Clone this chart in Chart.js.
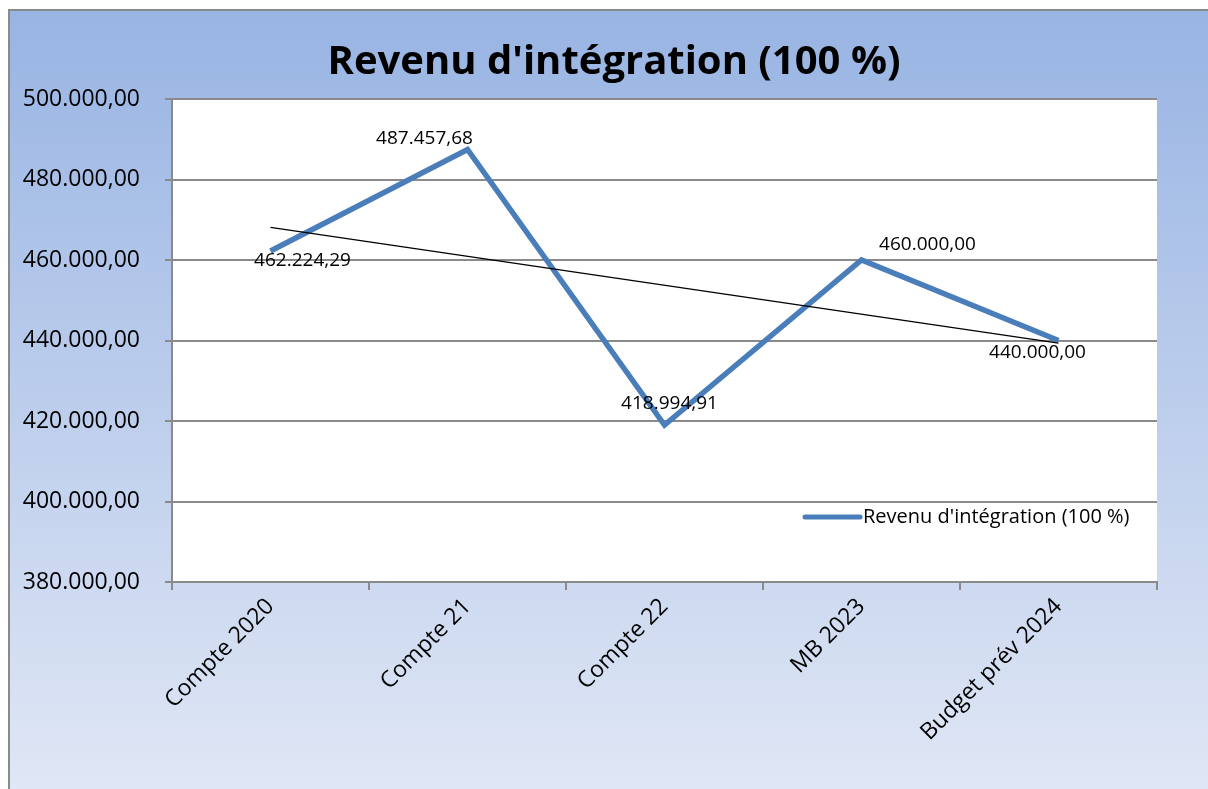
<!DOCTYPE html>
<html>
<head>
<meta charset="utf-8">
<script src="https://cdn.jsdelivr.net/npm/chart.js@4.4.1/dist/chart.umd.min.js"></script>
<style>
    html, body { margin: 0; padding: 0; background: #ffffff; }
    #box { width: 1208px; height: 789px; }
</style>
</head>
<body>
<div id="box"><canvas id="graphique"></canvas></div>
<script>
const titre = "Revenu d'intégration (100 %)";
const categories = ['Compte 2020', 'Compte 21', 'Compte 22', 'MB 2023', 'Budget prév 2024'];
const valeurs = [462224.29, 487457.68, 418994.91, 460000.00, 440000.00];
// tendance linéaire (début et fin)
const tendance = [468100, null, null, null, 439350];
const yMin = 380000;
const yMax = 500000;
const yPas = 20000;

const gris = '#8a8a8a';
const bleu = '#4a7ebb';

function formatNombre(v) {
    const parts = v.toFixed(2).split('.');
    return parts[0].replace(/\B(?=(\d{3})+(?!\d))/g, '.') + ',' + parts[1];
}

// fond dégradé, cadre et zone blanche
const fondPlugin = {
    id: 'fond',
    beforeDraw(chart) {
        const c = chart.ctx;
        const a = chart.chartArea;
        const g = c.createLinearGradient(0, 10, 0, chart.height);
        g.addColorStop(0, '#98b4e3');
        g.addColorStop(1, '#e0e7f5');
        c.save();
        c.fillStyle = g;
        c.fillRect(9, 10, chart.width, chart.height);
        c.strokeStyle = gris;
        c.lineWidth = 2;
        c.strokeRect(9, 10, chart.width + 10, chart.height + 10);
        c.fillStyle = '#ffffff';
        c.fillRect(a.left, a.top, a.right - a.left, a.bottom - a.top);
        c.restore();
    }
};

// titre, étiquettes de données et légende dans la zone
const textesPlugin = {
    id: 'textes',
    afterDraw(chart, args, opts) {
        const c = chart.ctx;
        const a = chart.chartArea;
        c.save();

        c.fillStyle = '#000000';
        c.textAlign = 'center';
        c.textBaseline = 'middle';
        c.font = 'bold 40px "Open Sans"';
        c.fillText(titre, 614, 63);

        const meta = chart.getDatasetMeta(0);
        c.font = '19px "Open Sans"';
        meta.data.forEach((pt, i) => {
            const d = opts.decalages[i];
            c.fillText(formatNombre(valeurs[i]), pt.x + d[0], pt.y + d[1]);
        });

        const ds = chart.data.datasets[0];
        const lx = a.left + 633;
        const ly = a.top + 418;
        c.strokeStyle = ds.borderColor;
        c.lineWidth = 5;
        c.lineCap = 'round';
        c.beginPath();
        c.moveTo(lx, ly);
        c.lineTo(lx + 55, ly);
        c.stroke();
        c.textAlign = 'left';
        c.font = '20px "Open Sans"';
        c.fillText(ds.label, lx + 58, ly);

        c.restore();
    }
};

new Chart(document.getElementById('graphique'), {
    type: 'line',
    data: {
        labels: categories,
        datasets: [
            {
                label: titre,
                data: valeurs,
                borderColor: bleu,
                borderWidth: 5.5,
                borderJoinStyle: 'miter',
                pointRadius: 0,
                tension: 0,
                order: 1
            },
            {
                label: 'Tendance',
                data: tendance,
                borderColor: '#000000',
                borderWidth: 1.3,
                pointRadius: 0,
                spanGaps: true,
                order: 0
            }
        ]
    },
    options: {
        responsive: true,
        maintainAspectRatio: false,
        animation: false,
        layout: {
            padding: { top: 99, right: 51, left: 0, bottom: 0 }
        },
        plugins: {
            legend: { display: false },
            tooltip: { enabled: false },
            title: { display: false },
            textes: {
                decalages: [[32, 10], [-43, -11], [5, -21], [66, -15], [-21, 12]]
            }
        },
        scales: {
            x: {
                offset: true,
                grid: {
                    offset: true,
                    drawOnChartArea: false,
                    drawTicks: true,
                    tickLength: 8,
                    color: gris,
                    lineWidth: 2
                },
                border: { color: gris, width: 2 },
                ticks: {
                    color: '#000000',
                    font: { family: 'Open Sans', size: 23 },
                    maxRotation: 45,
                    minRotation: 45,
                    padding: 3
                },
                afterFit(scale) {
                    scale.height = 207;
                }
            },
            y: {
                min: yMin,
                max: yMax,
                grid: {
                    color: gris,
                    lineWidth: 2,
                    tickLength: 7
                },
                border: { color: gris, width: 2 },
                ticks: {
                    stepSize: yPas,
                    color: '#000000',
                    font: { family: 'Open Sans', size: 23 },
                    padding: 25,
                    callback: v => formatNombre(v)
                },
                afterFit(scale) {
                    scale.width = 172;
                }
            }
        }
    },
    plugins: [fondPlugin, textesPlugin]
});
</script>
</body>
</html>
